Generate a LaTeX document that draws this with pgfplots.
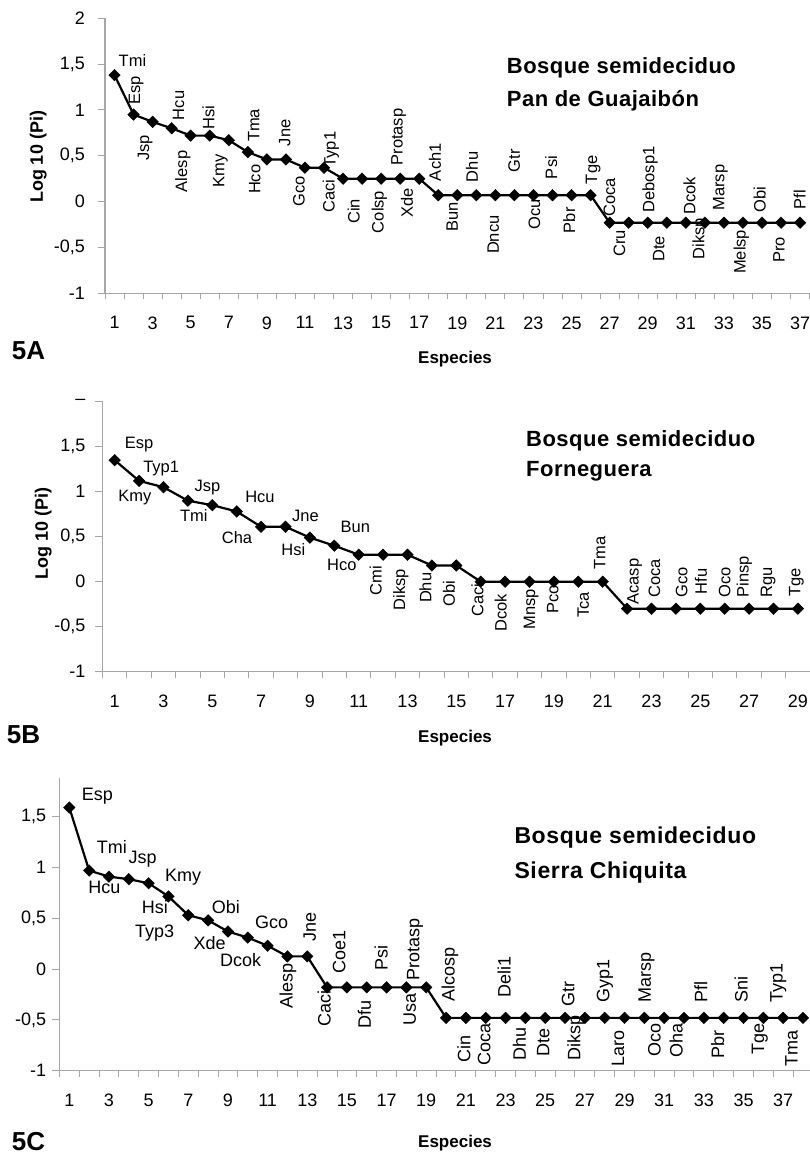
\documentclass[border=0pt]{standalone}
\usepackage{fontspec}
\setmainfont{Liberation Sans}
\newfontfamily\ttl[LetterSpace=2.2]{Liberation Sans}
\newfontfamily\ttlc[LetterSpace=2.8]{Liberation Sans}
\usepackage{pgfplots}
\usepackage{pgfplotstable}
\pgfplotsset{compat=1.18}

% x = species rank, y = log10(Pi), lab = species code,
% anc = anchor angle of the label (180 west, 0 east), rot = rotation, dx/dy = shift in pt
\pgfplotstableread[col sep=comma]{
x,y,lab,anc,rot,dx,dy
1,1.38,Tmi,180,0,4,11.2
2,0.95,Esp,180,90,4,10
3,0.87,Jsp,0,90,-6,-13
4,0.80,Hcu,180,90,10,8
5,0.72,Alesp,0,90,-6,-15
6,0.72,Hsi,180,90,2,6
7,0.67,Kmy,0,90,-7,-14
8,0.54,Tma,180,90,9,10
9,0.46,Hco,0,90,-9,-5
10,0.46,Jne,180,90,2,13
11,0.37,Gco,0,90,-3,-8
12,0.37,Caci,0,90,8,-12
13,0.25,Typ1,180,90,-10,11
14,0.25,Cin,0,90,-5,-20
15,0.25,Colsp,0,90,0,-12
16,0.25,Protasp,180,90,0,13
17,0.25,Xde,0,90,-9,-9
18,0.07,Ach1,180,90,0,14
19,0.07,Bun,0,90,-2,-7
20,0.07,Dhu,180,90,-1,13
21,0.07,Dncu,0,90,1,-20
22,0.07,Gtr,180,90,3,23
23,0.07,Ocu,0,90,4,-4
24,0.07,Psi,180,90,2,16
25,0.07,Pbr,0,90,1,-12
26,0.07,Tge,180,90,4,11
27,-0.23,Coca,180,90,3,6
28,-0.23,Cru,0,90,-6,-7
29,-0.23,Debosp1,180,90,4,10
30,-0.23,Dte,0,90,-5,-13
31,-0.23,Dcok,180,90,7,8
32,-0.23,Diksp,0,90,-3,5
33,-0.23,Marsp,180,90,-2,12
34,-0.23,Melsp,0,90,0,-7
35,-0.23,Obi,180,90,1,10
36,-0.23,Pro,0,90,1,-14
37,-0.23,Pfl,180,90,3,13
}\tabA

\pgfplotstableread[col sep=comma]{
x,y,lab,anc,rot,dx,dy
1,1.35,Esp,180,0,10,14.2
2,1.12,Kmy,180,0,-21,-18.5
3,1.05,Typ1,180,0,-20.4,16.9
4,0.90,Tmi,180,0,-8,-18.3
5,0.85,Jsp,180,0,-18,16.2
6,0.78,Cha,180,0,-15,-29.8
7,0.61,Hcu,180,0,-16,26.5
8,0.61,Hsi,180,0,-4.3,-26.1
9,0.49,Jne,180,0,-18,18.2
10,0.40,Hco,180,0,-7.4,-21.8
11,0.30,Bun,180,0,-18.3,25
12,0.30,Cmi,0,90,-4,-11
13,0.30,Diksp,0,90,-5,-14
14,0.18,Dhu,0,90,-3,-7
15,0.18,Obi,0,90,-4,-15
16,0,Caci,0,90,0,-2
17,0,Dcok,0,90,-1,-12
18,0,Mnsp,0,90,3,-7
19,0,Pco,0,90,2,-3
20,0,Tca,0,90,8,-10
21,0,Tma,180,90,0,12
22,-0.30,Acasp,180,90,9,4
23,-0.30,Coca,180,90,6,11
24,-0.30,Gco,180,90,9,11
25,-0.30,Hfu,180,90,4,14
26,-0.30,Oco,180,90,3,11
27,-0.30,Pinsp,180,90,-3,11
28,-0.30,Rgu,180,90,-4,11
29,-0.30,Tge,180,90,0,12
}\tabB

\pgfplotstableread[col sep=comma]{
x,y,lab,anc,rot,dx,dy
1,1.59,Esp,180,0,12.4,10.1
2,0.97,Tmi,180,0,7.6,20
3,0.91,Hcu,180,0,-20.7,-14.2
4,0.885,Jsp,180,0,-0.5,18
5,0.845,Kmy,180,0,16.4,4.6
6,0.715,Hsi,180,0,-26.7,-14.4
7,0.53,Typ3,180,0,-53.3,-19.9
8,0.48,Obi,180,0,3.6,9.4
9,0.37,Xde,180,0,-34.6,-15.4
10,0.31,Dcok,180,0,-27.8,-25.9
11,0.23,Gco,180,0,-12.6,19.6
12,0.125,Alesp,0,90,2.6,-6.6
13,0.125,Jne,180,90,6,15
14,-0.18,Caci,0,90,1,-3
15,-0.18,Coe1,180,90,-4,14
16,-0.18,Dfu,0,90,1.5,-13
17,-0.18,Psi,180,90,-1.6,17
18,-0.18,Usa,0,90,7,-6
19,-0.18,Protasp,180,90,-9.5,7
20,-0.48,Alcosp,180,90,6,16
21,-0.48,Cin,0,90,2,-17
22,-0.48,Coca,0,90,2,-5
23,-0.48,Deli1,180,90,2.5,20
24,-0.48,Dhu,0,90,-2,-9
25,-0.48,Dte,0,90,1.5,-10
26,-0.48,Gtr,180,90,6.7,11
27,-0.48,Diksp,0,90,-7,3
28,-0.48,Gyp1,180,90,2,15
29,-0.48,Laro,0,90,-3,-12
30,-0.48,Marsp,180,90,4,15
31,-0.48,Oco,0,90,-6,-5
32,-0.48,Oha,0,90,-4,-5
33,-0.48,Pfl,180,90,1,15
34,-0.48,Pbr,0,90,-2,-12
35,-0.48,Sni,180,90,1.5,15
36,-0.48,Tge,0,90,-1.7,-5
37,-0.48,Typ1,180,90,-3,15
38,-0.48,Tma,0,90,-8,-12
}\tabC

\pgfplotsset{
  panel/.style={
    scale only axis, clip=false,
    axis lines*=left,
    axis line style={draw=black!35, line width=1.1pt},
    tick style={draw=black!35, line width=1pt},
    tick align=outside,
    major tick length=7pt, minor tick length=6pt,
    major x tick style={draw=none},
    ymin=-1,
    /pgf/number format/assume math mode=true,
    ticklabel style={font=\fontsize{18}{18}\selectfont, inner sep=0pt},
    xticklabel style={anchor=north, yshift=-16pt},
    yticklabel style={anchor=east},
  },
  series/.style={black, line width=2.2pt, mark=square*, mark size=4.1pt,
    mark options={rotate=45, solid, line width=0.4pt},
    point meta=explicit symbolic,
    nodes near coords,
    visualization depends on={\thisrow{anc} \as \lblanc},
    visualization depends on={\thisrow{rot} \as \lblrot},
    visualization depends on={\thisrow{dx} \as \lbldx},
    visualization depends on={\thisrow{dy} \as \lbldy},
    every node near coord/.style={inner sep=0pt, black,
      font=\fontsize{#1}{#1}\selectfont, text height=0.72em, text depth=0.21em,
      xshift=\lbldx pt, yshift=\lbldy pt, rotate=\lblrot, anchor=\lblanc}},
}

\begin{document}
\begin{tikzpicture}
\path[use as bounding box] (0,0) rectangle (809pt,1155pt);

% 5A
\begin{axis}[panel, at={(105pt,861.7pt)}, anchor=south west,
  width=704.6pt, height=275pt, xmin=0.5, xmax=37.5, ymax=2,
  xtick={1,3,...,37}, minor xtick={0.5,1.5,...,37.5},
  ytick={-1,-0.5,0,0.5,1,1.5,2},
  yticklabels={-1,{-0,5},0,{0,5},1,{1,5},2},
  yticklabel style={xshift=-13pt}]
\addplot[series=16.5] table[x=x, y=y, meta=lab] {\tabA};
\end{axis}

% 5B
\begin{axis}[panel, at={(102.5pt,483.3pt)}, anchor=south west,
  width=707.6pt, height=270pt, xmin=0.5, xmax=29.5, ymax=2,
  xtick={1,3,...,29}, minor xtick={0.5,1.5,...,29.5},
  ytick={-1,-0.5,0,0.5,1,1.5,2},
  yticklabels={-1,{-0,5},0,{0,5},1,{1,5},--},
  yticklabel style={xshift=-10pt}]
\addplot[series=16.5] table[x=x, y=y, meta=lab] {\tabB};
\end{axis}

% 5C
\begin{axis}[panel, at={(59.4pt,84.3pt)}, anchor=south west,
  width=753.5pt, height=292.6pt, xmin=0.5, xmax=38.5, ymax=1.88,
  xtick={1,3,...,37}, minor xtick={0.5,1.5,...,38.5},
  ytick={-1,-0.5,0,0.5,1,1.5},
  yticklabels={-1,{-0,5},0,{0,5},1,{1,5}},
  yticklabel style={xshift=-6pt}]
\addplot[series=18] table[x=x, y=y, meta=lab] {\tabC};
\end{axis}

% titles and labels
\begin{scope}[every node/.style={inner sep=0pt, anchor=base west}]
\node[font=\ttl\bfseries\fontsize{22}{22}\selectfont] at (506.7pt,1081pt) {Bosque semideciduo};
\node[font=\ttl\bfseries\fontsize{22}{22}\selectfont] at (506.7pt,1048.3pt) {Pan de Guajaibón};
\node[font=\ttl\bfseries\fontsize{22}{22}\selectfont] at (526pt,708.3pt) {Bosque semideciduo};
\node[font=\ttl\bfseries\fontsize{22}{22}\selectfont] at (526pt,678.3pt) {Forneguera};
\node[font=\ttlc\bfseries\fontsize{23}{23}\selectfont] at (514.3pt,311.7pt) {Bosque semideciduo};
\node[font=\ttlc\bfseries\fontsize{23}{23}\selectfont] at (514.3pt,276pt) {Sierra Chiquita};
\node[font=\bfseries\fontsize{17}{17}\selectfont] at (418pt,791pt) {Especies};
\node[font=\bfseries\fontsize{17}{17}\selectfont] at (418pt,412.5pt) {Especies};
\node[font=\bfseries\fontsize{17}{17}\selectfont] at (418pt,7.5pt) {Especies};
\node[font=\bfseries\fontsize{26}{26}\selectfont] at (11.7pt,795.7pt) {5A};
\node[font=\bfseries\fontsize{26}{26}\selectfont] at (6.7pt,411.7pt) {5B};
\node[font=\bfseries\fontsize{26}{26}\selectfont] at (11.7pt,4.5pt) {5C};
\end{scope}
\node[rotate=90, inner sep=0pt, font=\bfseries\fontsize{18}{18}\selectfont] at (38.3pt,998pt) {Log 10 (Pi)};
\node[rotate=90, inner sep=0pt, font=\bfseries\fontsize{18}{18}\selectfont] at (43.3pt,621.7pt) {Log 10 (Pi)};
\end{tikzpicture}
\end{document}
